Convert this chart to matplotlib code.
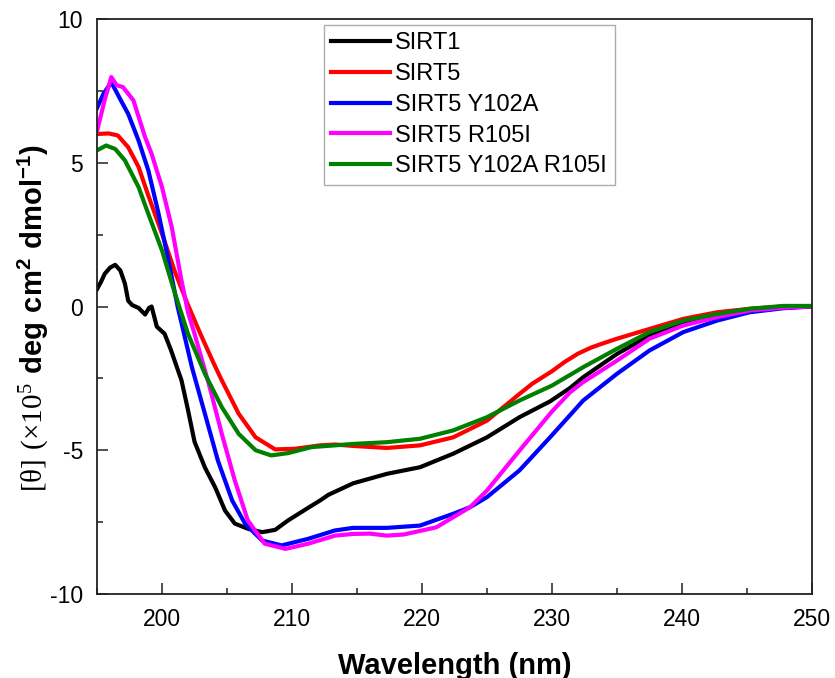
import matplotlib.pyplot as plt
from matplotlib.ticker import MultipleLocator

plt.rcParams['font.family'] = ['Liberation Sans', 'DejaVu Sans']
plt.rcParams['axes.unicode_minus'] = False
plt.rcParams['mathtext.fontset'] = 'custom'
plt.rcParams['mathtext.rm'] = 'Liberation Serif'
plt.rcParams['mathtext.bf'] = 'Liberation Sans:bold'

# SIRT1 (black)
wl_sirt1 = [195.0, 195.3, 195.6, 196.0, 196.4, 196.8, 197.15, 197.4, 197.7, 198.2, 198.7,
            199.0, 199.2, 199.6, 200.2, 200.7, 201.5, 202.0, 202.5, 203.3, 204.1, 204.85,
            205.6, 206.6, 207.7, 208.7, 209.7, 211.25, 212.15, 212.8, 214.7, 217.3, 219.85,
            222.4, 225.0, 227.5, 229.85, 231.4, 232.4, 235.0, 237.5, 240.1, 242.7, 245.2,
            247.8, 250.0]
cd_sirt1 = [0.6, 0.85, 1.14, 1.35, 1.45, 1.25, 0.79, 0.2, 0.05, -0.05, -0.28,
            -0.05, 0.0, -0.7, -0.95, -1.53, -2.57, -3.6, -4.7, -5.6, -6.3, -7.1,
            -7.55, -7.73, -7.85, -7.77, -7.44, -7.0, -6.75, -6.55, -6.15, -5.82, -5.59,
            -5.12, -4.55, -3.85, -3.3, -2.83, -2.46, -1.65, -1.01, -0.55, -0.3, -0.12,
            -0.03, 0.0]

# SIRT5 (red)
wl_sirt5 = [195.0, 195.9, 196.6, 197.4, 198.2, 198.9, 200.0, 201.0, 202.0, 203.0, 204.0,
            204.6, 205.9, 207.2, 208.7, 210.2, 212.15, 213.3, 214.7, 217.3, 219.85, 222.4,
            225.0, 227.5, 228.5, 230.0, 231.0, 232.0, 233.0, 234.0, 235.0, 237.5, 240.1,
            242.7, 245.2, 247.8, 250.0]
cd_sirt5 = [6.0, 6.02, 5.95, 5.54, 4.85, 3.92, 2.53, 1.2, 0.05, -1.0, -2.0,
            -2.57, -3.73, -4.55, -4.97, -4.95, -4.83, -4.8, -4.85, -4.92, -4.83, -4.55,
            -3.97, -3.04, -2.68, -2.25, -1.92, -1.64, -1.43, -1.27, -1.12, -0.78, -0.43,
            -0.2, -0.08, 0.0, 0.0]

# SIRT5 Y102A (blue)
wl_y102a = [195.0, 195.5, 196.1, 196.8, 197.4, 198.2, 198.95, 199.7, 200.5, 201.2, 202.3,
            203.3, 204.3, 205.4, 206.4, 207.7, 209.2, 211.25, 213.3, 214.7, 217.3, 219.85,
            222.4, 223.7, 225.0, 227.5, 229.85, 232.4, 235.0, 237.5, 240.1, 242.7, 245.2,
            247.8, 250.0]
cd_y102a = [6.9, 7.4, 7.8, 7.2, 6.7, 5.77, 4.73, 3.3, 1.6, 0.0, -2.11,
            -3.73, -5.36, -6.75, -7.56, -8.14, -8.31, -8.08, -7.79, -7.7, -7.7, -7.62,
            -7.21, -6.98, -6.63, -5.7, -4.55, -3.27, -2.34, -1.53, -0.89, -0.49, -0.2,
            -0.06, 0.0]

# SIRT5 R105I (magenta)
wl_r105i = [195.0, 195.6, 196.1, 196.5, 197.0, 197.8, 198.7, 199.2, 200.0, 200.75, 201.5,
            202.0, 202.5, 203.6, 204.6, 205.6, 206.6, 207.9, 209.5, 211.25, 213.3, 214.7,
            216.0, 217.3, 218.6, 221.1, 223.7, 225.0, 227.5, 230.0, 231.4, 232.4, 235.0,
            237.5, 240.1, 242.7, 245.2, 247.8, 250.0]
cd_r105i = [6.1, 7.2, 7.98, 7.7, 7.63, 7.17, 5.89, 5.31, 4.15, 2.76, 0.9,
            -0.2, -0.95, -2.69, -4.43, -6.05, -7.44, -8.25, -8.43, -8.25, -7.97, -7.91,
            -7.9, -7.97, -7.93, -7.68, -6.98, -6.4, -5.01, -3.65, -2.98, -2.63, -1.88,
            -1.12, -0.66, -0.37, -0.14, -0.04, 0.0]

# SIRT5 Y102A R105I (green)
wl_double = [195.0, 195.7, 196.4, 197.15, 198.2, 198.95, 200.0, 201.0, 202.0, 203.3, 204.6,
             205.9, 207.2, 208.4, 209.7, 211.5, 213.3, 214.7, 217.3, 219.85, 222.4, 225.0,
             227.5, 230.0, 232.4, 235.0, 237.5, 240.1, 242.7, 245.2, 247.8, 250.0]
cd_double = [5.43, 5.6, 5.48, 5.08, 4.15, 3.22, 1.95, 0.45, -0.95, -2.34, -3.5,
             -4.43, -5.0, -5.18, -5.1, -4.89, -4.83, -4.78, -4.72, -4.6, -4.31, -3.85,
             -3.27, -2.75, -2.11, -1.47, -0.89, -0.49, -0.26, -0.08, 0.02, 0.02]

series = [
    ('SIRT1', wl_sirt1, cd_sirt1, 'black'),
    ('SIRT5', wl_sirt5, cd_sirt5, 'red'),
    ('SIRT5 Y102A', wl_y102a, cd_y102a, 'blue'),
    ('SIRT5 R105I', wl_r105i, cd_r105i, 'magenta'),
    ('SIRT5 Y102A R105I', wl_double, cd_double, 'green'),
]

fig = plt.figure(figsize=(8.35, 6.78), dpi=100)
ax = fig.add_axes([97/835, 84/678, 715/835, 575/678])

for name, wl, cd, col in series:
    ax.plot(wl, cd, color=col, lw=3, label=name)

ax.set_xlim(195, 250)
ax.set_ylim(-10, 10)
ax.xaxis.set_major_locator(MultipleLocator(10))
ax.xaxis.set_minor_locator(MultipleLocator(5))
ax.yaxis.set_major_locator(MultipleLocator(5))
ax.yaxis.set_minor_locator(MultipleLocator(2.5))
ax.tick_params(which='both', direction='in', width=1.1, labelsize=16.5, color='#222222')
ax.tick_params(which='major', length=8)
ax.tick_params(which='minor', length=4.5)
ax.tick_params(axis='x', pad=10)
ax.tick_params(axis='y', pad=10)
for s in ax.spines.values():
    s.set_linewidth(1.3)
    s.set_color('#222222')

ax.set_xlabel('Wavelength (nm)', fontsize=21, fontweight='bold', va='top')
ax.xaxis.set_label_coords(0.5, -0.1)
ax.set_ylabel(r'$\mathrm{[\theta]\ (\times10^{5}}\ \mathbf{deg\ cm^{2}\ dmol^{-1})}$', fontsize=21)
ax.yaxis.set_label_coords(-0.066, 0.48)

leg = ax.legend(loc='upper left', bbox_to_anchor=(0.317, 0.99), fontsize=17, frameon=True,
                fancybox=False, edgecolor='#999999', borderpad=0.32, handlelength=2.5,
                handletextpad=0.21, labelspacing=0.37, borderaxespad=0)
leg.get_frame().set_linewidth(1.0)

fig.savefig('out.png', dpi=100)
